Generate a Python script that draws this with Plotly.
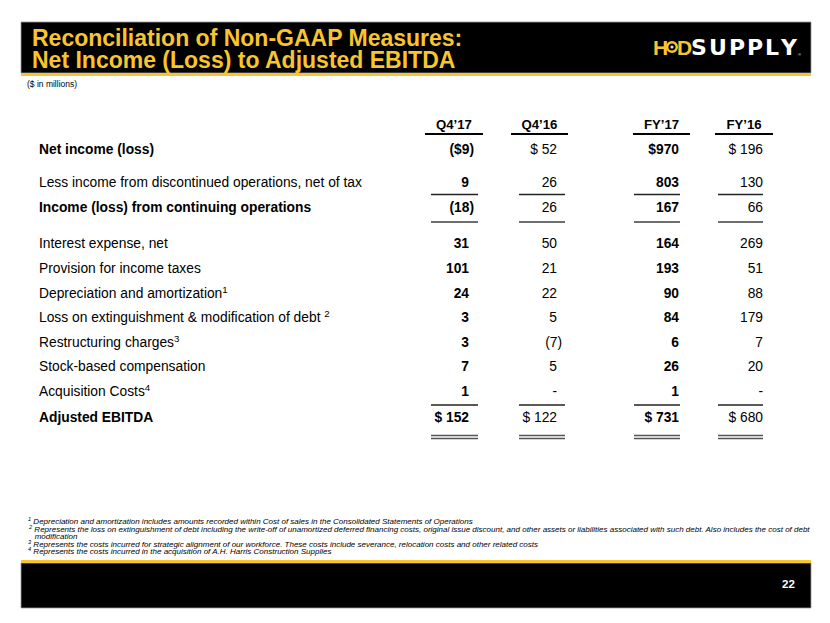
import plotly.graph_objects as go

# ---------------- data ----------------
row_labels = [
    "Net income (loss)",
    "Less income from discontinued operations, net of tax",
    "Income (loss) from continuing operations",
    "Interest expense, net",
    "Provision for income taxes",
    "Depreciation and amortization<sup>1</sup>",
    "Loss on extinguishment & modification of debt <sup>2</sup>",
    "Restructuring charges<sup>3</sup>",
    "Stock-based compensation",
    "Acquisition Costs<sup>4</sup>",
    "Adjusted EBITDA",
]
bold_rows = [0, 2, 10]
col_headers = ["Q4’17", "Q4’16", "FY’17", "FY’16"]
q4_17 = [-9, 9, -18, 31, 101, 24, 3, 3, 7, 1, 152]
q4_16 = [52, 26, 26, 50, 21, 22, 5, -7, 5, None, 122]
fy_17 = [970, 803, 167, 164, 193, 90, 84, 6, 26, 1, 731]
fy_16 = [196, 130, 66, 269, 51, 88, 179, 7, 20, None, 680]
columns = [q4_17, q4_16, fy_17, fy_16]

title_lines = ["Reconciliation of Non-GAAP Measures:", "Net Income (Loss) to Adjusted EBITDA"]
subtitle = "($ in millions)"
footnotes = [
    "<sup>1</sup> Depreciation and amortization includes amounts recorded within Cost of sales in the Consolidated Statements of Operations",
    "<sup>2</sup> Represents the loss on extinguishment of debt including the write-off of unamortized deferred financing costs, original issue discount, and other assets or liabilities associated with such debt. Also includes the cost of debt",
    "   modification",
    "<sup>3</sup> Represents the costs incurred for strategic alignment of our workforce. These costs include severance, relocation costs and other related costs",
    "<sup>4</sup> Represents the costs incurred in the acquisition of A.H. Harris Construction Supplies",
]
page_number = "22"
logo_yellow = ["H", "D"]
logo_white = ["S", "U", "P", "P", "L", "Y"]

# ---------------- layout constants ----------------
W, H = 830, 623
FONT = "Liberation Sans, Arial, Helvetica, sans-serif"
YELLOW = "#F9C52F"
row_y = [151, 184, 209, 245, 270, 295, 319, 344, 368, 393, 419]
col_right = [469, 557, 679, 763]
col_bold = [True, False, True, False]
head_span = [(425, 483), (511, 568), (633, 690), (715, 773)]
line_span = [(431, 478), (519, 565), (634, 680), (718, 763)]
PAREN = 5  # negative numbers hang their closing parenthesis


def fmt(v, row, bold):
    if v is None:
        return "-"
    s = str(abs(v))
    if row == 0:
        s = ("$" if bold else "$ ") + s
    elif row == len(row_labels) - 1:
        s = "$ " + s
    if v < 0:
        s = "(" + s + ")"
    return s


fig = go.Figure()

# row labels
fig.add_trace(go.Scatter(
    x=[39] * len(row_labels), y=row_y, mode="text",
    text=[("<b>%s</b>" % t) if i in bold_rows else t for i, t in enumerate(row_labels)],
    textposition="middle right",
    textfont=dict(family=FONT, size=13.8, color="#000000"),
    hoverinfo="skip", showlegend=False,
))

# value columns
for c, vals in enumerate(columns):
    xs = [col_right[c] + (PAREN if (v is not None and v < 0) else 0) for v in vals]
    txt = [fmt(v, r, col_bold[c]) for r, v in enumerate(vals)]
    if col_bold[c]:
        txt = ["<b>%s</b>" % t for t in txt]
    fig.add_trace(go.Scatter(
        x=xs, y=row_y, mode="text", text=txt, textposition="middle left",
        textfont=dict(family=FONT, size=13.8, color="#000000"),
        hoverinfo="skip", showlegend=False,
    ))

# column headers
fig.add_trace(go.Scatter(
    x=[(a + b) / 2 for a, b in head_span], y=[126] * 4, mode="text",
    text=["<b>%s</b>" % h for h in col_headers], textposition="middle center",
    textfont=dict(family=FONT, size=13.2, color="#000000"),
    hoverinfo="skip", showlegend=False,
))

shapes = []
# header bar
shapes.append(dict(type="rect", x0=21, x1=811, y0=22, y1=73, fillcolor="#000000",
                   line=dict(width=0.8, color="#9a9a9a"), layer="below"))
shapes.append(dict(type="rect", x0=21, x1=811, y0=73, y1=76, fillcolor=YELLOW, line=dict(width=0)))
# footer bar
shapes.append(dict(type="rect", x0=21, x1=811, y0=563, y1=608, fillcolor="#000000",
                   line=dict(width=0.8, color="#9a9a9a"), layer="below"))
shapes.append(dict(type="rect", x0=21, x1=811, y0=560, y1=563, fillcolor=YELLOW, line=dict(width=0)))

for c in range(4):
    a, b = head_span[c]
    shapes.append(dict(type="line", x0=a, x1=b, y0=134, y1=134, line=dict(color="#000000", width=2)))
    a, b = line_span[c]
    shapes.append(dict(type="line", x0=a, x1=b, y0=194.5, y1=194.5, line=dict(color="#222222", width=1.3)))
    shapes.append(dict(type="line", x0=a, x1=b, y0=222, y1=222, line=dict(color="#6e6e6e", width=2.2)))
    shapes.append(dict(type="line", x0=a, x1=b, y0=405, y1=405, line=dict(color="#222222", width=1.3)))
    shapes.append(dict(type="line", x0=a, x1=b, y0=435.5, y1=435.5, line=dict(color="#555555", width=1.4)))
    shapes.append(dict(type="line", x0=a, x1=b, y0=438.5, y1=438.5, line=dict(color="#555555", width=1.4)))

# logo ring between H and D
LOGO_Y = 47
shapes.append(dict(type="circle", x0=667.2, x1=676.8, y0=LOGO_Y - 4.8, y1=LOGO_Y + 4.8,
                   line=dict(color=YELLOW, width=2.4), fillcolor="#000000"))
shapes.append(dict(type="circle", x0=670.4, x1=673.6, y0=LOGO_Y - 1.6, y1=LOGO_Y + 1.6,
                   line=dict(width=0), fillcolor="#dddddd"))

annotations = []
for i, t in enumerate(title_lines):
    annotations.append(dict(x=30, y=[38, 60][i], xref="x", yref="y", text="<b>%s</b>" % t,
                            showarrow=False, xanchor="left", yanchor="middle",
                            font=dict(family=FONT, size=23, color=YELLOW)))
annotations.append(dict(x=25, y=84, xref="x", yref="y", text=subtitle, showarrow=False,
                        xanchor="left", yanchor="middle", font=dict(family=FONT, size=8.5, color="#000000")))
# logo letters
LOGO_FONT = "DejaVu Sans, Liberation Sans, sans-serif"
for ch, xc in zip(logo_yellow, [660.5, 684]):
    annotations.append(dict(x=xc, y=LOGO_Y, xref="x", yref="y", text="<b>%s</b>" % ch, showarrow=False,
                            xanchor="center", yanchor="middle",
                            font=dict(family=FONT, size=21, color=YELLOW)))
for ch, xc in zip(logo_white, [698.9, 717.7, 736.8, 754.9, 771.9, 788.9]):
    annotations.append(dict(x=xc, y=LOGO_Y, xref="x", yref="y", text="<b>%s</b>" % ch, showarrow=False,
                            xanchor="center", yanchor="middle",
                            font=dict(family=LOGO_FONT, size=22, color="#ffffff")))
annotations.append(dict(x=796, y=54, xref="x", yref="y", text="®", showarrow=False,
                        xanchor="left", yanchor="middle", font=dict(family=FONT, size=4, color="#ffffff")))

fn_y = [521, 528.5, 536, 543.5, 551]
for t, y in zip(footnotes, fn_y):
    annotations.append(dict(x=26, y=y, xref="x", yref="y", text="<i>%s</i>" % t, showarrow=False,
                            xanchor="left", yanchor="middle", font=dict(family=FONT, size=8, color="#000000")))

annotations.append(dict(x=797, y=584, xref="x", yref="y", text="<b>%s</b>" % page_number, showarrow=False,
                        xanchor="right", yanchor="middle", font=dict(family=FONT, size=11.5, color="#ffffff")))

fig.update_layout(
    width=W, height=H, margin=dict(l=0, r=0, t=0, b=0), autosize=False,
    paper_bgcolor="#ffffff", plot_bgcolor="#ffffff",
    xaxis=dict(range=[0, W], visible=False, fixedrange=True),
    yaxis=dict(range=[H, 0], visible=False, fixedrange=True),
    shapes=shapes, annotations=annotations, showlegend=False,
)

fig.write_html("out.html", config={"displayModeBar": False},
               post_script="document.body.style.margin='0px';document.body.style.overflow='hidden';")
